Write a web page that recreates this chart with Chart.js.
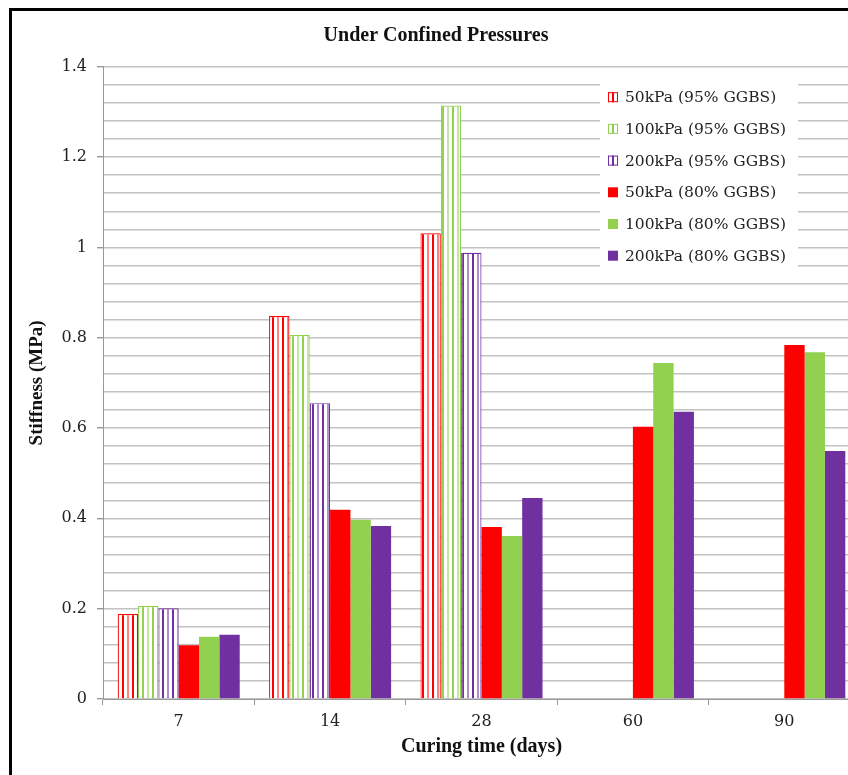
<!DOCTYPE html>
<html>
<head>
<meta charset="utf-8">
<script src="https://cdn.jsdelivr.net/npm/chart.js@4.4.1/dist/chart.umd.min.js"></script>
<style>
  html, body { margin: 0; padding: 0; background: #fff; overflow: hidden; }
  #frame {
    position: absolute; left: 9px; top: 8px;
    width: 860px; height: 790px;
    border-left: 3px solid #000; border-top: 3px solid #000;
  }
  #wrap { position: absolute; left: 0; top: 0; width: 850px; height: 764px; }
</style>
</head>
<body>
<div id="frame"><div id="wrap"><canvas id="stiffChart"></canvas></div></div>
<script>
const curingDays = ['7', '14', '28', '60', '90'];

const kpa50ggbs95 = [0.188, 0.848, 1.031, null, null];
const kpa100ggbs95 = [0.206, 0.806, 1.314, null, null];
const kpa200ggbs95 = [0.201, 0.655, 0.988, null, null];
const kpa50ggbs80 = [0.119, 0.419, 0.381, 0.603, 0.784];
const kpa100ggbs80 = [0.138, 0.397, 0.361, 0.744, 0.768];
const kpa200ggbs80 = [0.142, 0.383, 0.445, 0.636, 0.549];

const seriesLabels = [
    '50kPa (95% GGBS)', '100kPa (95% GGBS)', '200kPa (95% GGBS)',
    '50kPa (80% GGBS)', '100kPa (80% GGBS)', '200kPa (80% GGBS)'
];

const red = '#FF0000';
const green = '#92D050';
const purple = '#7030A0';

// vertical stripe fill for the 95% GGBS bars
function stripes(color, light) {
    const c = document.createElement('canvas');
    c.width = 10; c.height = 10;
    const g = c.getContext('2d');
    g.fillStyle = '#fff';
    g.fillRect(0, 0, 10, 10);
    g.fillStyle = color;
    g.fillRect(0, 0, 2, 10);
    g.fillStyle = light;
    g.fillRect(5, 0, 2, 10);
    return g.createPattern(c, 'repeat');
}

const ctx = document.getElementById('stiffChart').getContext('2d');

const redStripes = stripes(red, '#FF8080');
const greenStripes = stripes(green, '#C4E6A4');
const purpleStripes = stripes(purple, '#B08CD0');

const datasets = [
    { label: seriesLabels[0], data: kpa50ggbs95, backgroundColor: redStripes, borderColor: red, borderWidth: 1.2, hatched: true, lineCol: red },
    { label: seriesLabels[1], data: kpa100ggbs95, backgroundColor: greenStripes, borderColor: green, borderWidth: 1.2, hatched: true, lineCol: green },
    { label: seriesLabels[2], data: kpa200ggbs95, backgroundColor: purpleStripes, borderColor: purple, borderWidth: 1.2, hatched: true, lineCol: purple },
    { label: seriesLabels[3], data: kpa50ggbs80, backgroundColor: red, borderWidth: 0 },
    { label: seriesLabels[4], data: kpa100ggbs80, backgroundColor: green, borderWidth: 0 },
    { label: seriesLabels[5], data: kpa200ggbs80, backgroundColor: purple, borderWidth: 0 }
];

// legend drawn inside the plot, top right, over a white box
const insideLegend = {
    id: 'insideLegend',
    afterDatasetsDraw(chart) {
        const a = chart.chartArea;
        const g = chart.ctx;
        const bx = a.right - 260, by = a.top + 9;
        g.save();
        g.fillStyle = '#fff';
        g.fillRect(bx, by, 198, 201);
        g.font = '15.5px "DejaVu Serif"';
        g.textBaseline = 'middle';
        chart.data.datasets.forEach((ds, i) => {
            const cy = a.top + 30.5 + i * 31.7;
            const sx = bx + 8;
            g.fillStyle = ds.backgroundColor;
            g.fillRect(sx, cy - 5, 10, 10);
            if (ds.hatched) {
                g.strokeStyle = ds.lineCol;
                g.lineWidth = 1;
                g.strokeRect(sx + 0.5, cy - 4.5, 9, 9);
                g.beginPath();
                g.moveTo(sx + 5, cy - 5);
                g.lineTo(sx + 5, cy + 5);
                g.stroke();
            }
            g.fillStyle = '#222';
            g.fillText(ds.label, bx + 25, cy + 1);
        });
        g.restore();
    }
};

const isMajor = v => Math.abs(v / 0.2 - Math.round(v / 0.2)) < 1e-6;

new Chart(ctx, {
    type: 'bar',
    data: { labels: curingDays, datasets: datasets },
    plugins: [insideLegend],
    options: {
        responsive: true,
        maintainAspectRatio: false,
        animation: false,
        layout: { padding: { left: 0, right: 2, top: 0, bottom: 0 } },
        datasets: {
            bar: { categoryPercentage: 0.806, barPercentage: 1.0 }
        },
        plugins: {
            legend: { display: false },
            tooltip: { enabled: false },
            title: {
                display: true,
                text: 'Under Confined Pressures',
                color: '#111',
                font: { family: '"Liberation Serif"', size: 20, weight: 'bold' },
                padding: { top: 13, bottom: 18.7 }
            }
        },
        scales: {
            x: {
                grid: {
                    offset: true,
                    drawOnChartArea: false,
                    tickLength: 6,
                    color: '#999'
                },
                border: { color: '#999', width: 1 },
                ticks: {
                    color: '#222',
                    padding: 7,
                    font: { family: '"DejaVu Serif"', size: 16 }
                },
                title: {
                    display: true,
                    text: 'Curing time (days)',
                    color: '#111',
                    font: { family: '"Liberation Serif"', size: 20, weight: 'bold' },
                    padding: { top: 0, bottom: 16 }
                },
                afterFit(scale) { scale.height = 76; }
            },
            y: {
                min: 0,
                max: 1.4,
                ticks: {
                    stepSize: 0.04,
                    autoSkip: false,
                    color: '#222',
                    padding: 10,
                    font: { family: '"DejaVu Serif"', size: 16 },
                    callback: v => isMajor(v) ? String(Math.round(v * 10) / 10) : ''
                },
                grid: {
                    color: '#c2c2c2',
                    lineWidth: 1.4,
                    tickLength: 6,
                    tickColor: c => (c.tick && isMajor(c.tick.value)) ? '#999' : 'rgba(0,0,0,0)'
                },
                border: { color: '#999', width: 1 },
                title: {
                    display: true,
                    text: 'Stiffness (MPa)',
                    color: '#111',
                    font: { family: '"Liberation Serif"', size: 19, weight: 'bold' },
                    padding: { top: 14, bottom: 0 }
                },
                afterFit(scale) { scale.width = 91; }
            }
        }
    }
});
</script>
</body>
</html>
